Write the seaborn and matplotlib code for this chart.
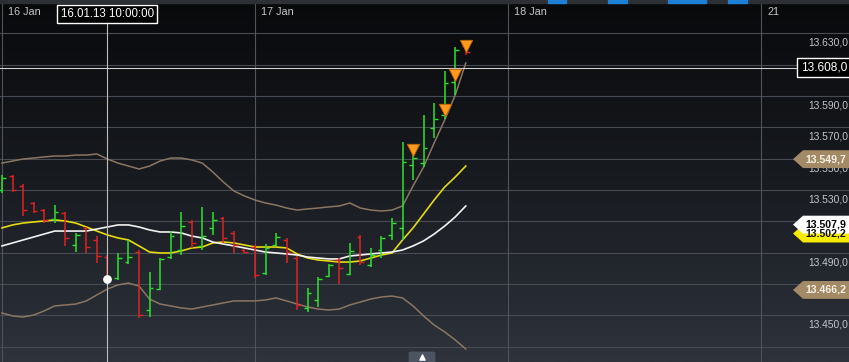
import numpy as np
import pandas as pd
import matplotlib
matplotlib.use("Agg")
import matplotlib.pyplot as plt
from matplotlib.patches import Polygon, Rectangle, FancyBboxPatch
from matplotlib.colors import LinearSegmentedColormap
import seaborn as sns

# ---------------- data (hourly bars from 16.01.13 00:00) ----------------
bar_index = list(range(45))
opens = [13530.0, 13538.9, 13532.6, 13521.7, 13517.2, 13511.5, 13515.3, 13494.9, 13505.8, 13498.1,
         13487.2, 13473.8, 13484.0, 13490.4, 13453.4, 13466.8, 13487.2, 13491.7, 13509.6, 13494.3,
         13505.8, 13512.1, 13502.6, 13491.7, 13493.6, 13477.0, 13494.9, 13498.1, 13486.6, 13454.7,
         13459.8, 13475.1, 13485.3, 13476.4, 13500.0, 13482.1, 13491.7, 13501.3, 13505.8, 13546.0,
         13547.2, 13569.6, 13577.9, 13598.9, 13621.9]
highs = [13539.6, 13539.6, 13533.8, 13522.3, 13517.9, 13520.4, 13516.0, 13502.6, 13506.4, 13500.6,
         13488.5, 13489.8, 13498.1, 13491.7, 13477.7, 13486.6, 13503.8, 13516.0, 13510.9, 13519.2,
         13516.0, 13512.8, 13503.8, 13492.3, 13494.9, 13495.5, 13502.6, 13499.4, 13487.9, 13467.5,
         13474.5, 13482.8, 13486.6, 13496.2, 13501.3, 13493.0, 13500.6, 13512.1, 13560.6, 13552.3,
         13577.9, 13585.5, 13606.0, 13621.3, 13623.2]
lows = [13528.1, 13528.7, 13513.4, 13515.3, 13508.9, 13508.9, 13494.3, 13490.4, 13489.8, 13483.4,
        13472.6, 13472.6, 13482.8, 13448.3, 13448.9, 13466.2, 13486.0, 13488.5, 13493.0, 13491.7,
        13501.3, 13496.2, 13489.8, 13489.8, 13473.8, 13475.8, 13494.3, 13483.4, 13453.4, 13452.1,
        13455.3, 13474.5, 13470.0, 13475.8, 13482.1, 13480.9, 13486.6, 13498.1, 13498.1, 13536.4,
        13544.7, 13563.2, 13575.3, 13590.6, 13616.2]
closes = [13537.7, 13530.0, 13517.2, 13516.6, 13510.9, 13516.0, 13499.4, 13501.3, 13493.6, 13487.9,
          13473.2, 13486.6, 13487.2, 13450.2, 13467.5, 13486.0, 13500.6, 13507.0, 13496.2, 13500.6,
          13510.9, 13499.4, 13494.9, 13490.4, 13475.8, 13493.0, 13500.0, 13490.4, 13456.6, 13464.3,
          13473.2, 13482.1, 13480.2, 13491.1, 13484.0, 13488.5, 13499.4, 13508.9, 13547.9, 13550.4,
          13556.8, 13575.3, 13598.3, 13619.4, 13618.1]

upper_band = [13547.2, 13548.5, 13549.8, 13550.4, 13551.1, 13551.7, 13551.7, 13552.3, 13552.3, 13553.0,
              13549.8, 13547.2, 13545.3, 13543.4, 13545.3, 13548.5, 13550.4, 13550.4, 13549.2, 13547.2,
              13541.5, 13535.1, 13529.4, 13526.2, 13523.6, 13521.7, 13520.4, 13518.5, 13517.2, 13517.9,
              13518.5, 13519.2, 13519.8, 13521.7, 13518.5, 13517.2, 13516.6, 13517.2, 13519.8, 13532.6,
              13544.7, 13560.0, 13574.7, 13590.6, 13611.1]
lower_band = [13451.5, 13449.6, 13448.9, 13450.2, 13452.8, 13456.0, 13456.6, 13457.2, 13459.2, 13463.0,
              13466.8, 13469.4, 13470.6, 13468.7, 13460.4, 13457.2, 13456.0, 13454.7, 13454.0, 13455.3,
              13456.6, 13457.9, 13459.2, 13459.2, 13459.2, 13459.8, 13461.1, 13459.2, 13457.2, 13455.3,
              13454.0, 13453.4, 13454.0, 13456.6, 13458.5, 13460.4, 13461.7, 13462.3, 13461.1, 13456.0,
              13449.6, 13443.8, 13439.4, 13434.3, 13428.5]
ma_fast = [13505.8, 13507.7, 13508.9, 13509.6, 13510.2, 13510.9, 13510.2, 13508.9, 13506.4, 13503.8,
           13501.3, 13499.4, 13498.1, 13494.3, 13490.4, 13489.8, 13489.8, 13491.1, 13493.0, 13493.6,
           13496.2, 13496.8, 13496.2, 13494.9, 13493.6, 13493.6, 13493.6, 13493.0, 13489.2, 13486.6,
           13485.3, 13484.7, 13484.0, 13484.0, 13484.7, 13486.6, 13488.5, 13489.8, 13498.1, 13505.8,
           13514.7, 13523.6, 13531.9, 13538.3, 13545.3]
ma_slow = [13494.3, 13496.2, 13498.1, 13500.0, 13501.9, 13503.8, 13503.8, 13503.8, 13503.8, 13505.1,
           13506.4, 13507.7, 13507.7, 13506.4, 13504.5, 13503.2, 13503.2, 13502.6, 13500.6, 13499.4,
           13496.8, 13495.5, 13494.3, 13493.0, 13491.7, 13490.4, 13489.8, 13489.2, 13488.5, 13487.2,
           13486.6, 13486.0, 13486.0, 13487.9, 13488.5, 13489.2, 13489.8, 13490.4, 13491.7, 13494.3,
           13497.5, 13501.9, 13507.0, 13512.8, 13519.8]

signal_bars = [39, 42, 43, 44]
signal_values = [13555.5, 13581.1, 13603.4, 13621.9]

grid_levels = [13430, 13450, 13470, 13490, 13510, 13530, 13550, 13570, 13590, 13610, 13630]
label_levels = [13450, 13490, 13530, 13550, 13570, 13590, 13630]
day_bars = [0, 24, 48, 72]
day_labels = ["16 Jan", "17 Jan", "18 Jan", "21"]

cursor_bar = 10
cursor_close = 13473.2
cursor_label = "16.01.13 10:00:00"
cursor_value = 13608.0
cursor_value_text = "13.608,0"

tag_values = [13502.2, 13507.9, 13549.7, 13466.2]
tag_texts = ["13.502,2", "13.507,9", "13.549,7", "13.466,2"]
tag_colors = ["#f5ec00", "#ffffff", "#a28a66", "#a28a66"]
tag_text_colors = ["#111111", "#000000", "#f7f0e4", "#f7f0e4"]

# ---------------- figure ----------------
plt.rcParams['font.family'] = ['Liberation Sans', 'DejaVu Sans']
fig = plt.figure(figsize=(8.49, 3.62), dpi=100)
ax = fig.add_axes([0, 0, 1, 1])
ax.set_axis_off()

W, H = 849.0, 362.0
def fx(px):
    return px / W
def fy(py):
    return 1 - py / H

# gradient background
cmap = LinearSegmentedColormap.from_list("bg", ["#08090b", "#181b20", "#2e333c"])
grad = np.linspace(0, 1, 256).reshape(-1, 1)
ax.imshow(grad, extent=[0, 1, 0, 1], transform=ax.transAxes, aspect='auto',
          cmap=cmap, origin='upper', zorder=0)

# grid
for g in grid_levels:
    ax.axhline(g, color="#464b54", lw=0.8, zorder=1)
for d in day_bars:
    ax.axvline(d, color="#4e535c", lw=0.8, zorder=1)

# indicator lines via seaborn
df = pd.DataFrame({"bar": bar_index, "upper": upper_band, "lower": lower_band,
                   "fast": ma_fast, "slow": ma_slow})
sns.lineplot(data=df, x="bar", y="upper", color="#8a7662", lw=1.1, ax=ax, zorder=2)
sns.lineplot(data=df, x="bar", y="lower", color="#8a7662", lw=1.1, ax=ax, zorder=2)
sns.lineplot(data=df, x="bar", y="fast", color="#e6da10", lw=1.2, ax=ax, zorder=2)
sns.lineplot(data=df, x="bar", y="slow", color="#f2f2f2", lw=1.2, ax=ax, zorder=2)

# OHLC bars
o = np.array(opens); c = np.array(closes); hi = np.array(highs); lo = np.array(lows)
xb = np.array(bar_index)
cols = np.where(c >= o, "#2ee22e", "#e02222")
ax.vlines(xb, lo, hi, colors=cols, lw=1.1, zorder=3)
ax.hlines(o, xb - 0.36, xb, colors=cols, lw=1.0, zorder=3)
ax.hlines(c, xb, xb + 0.36, colors=cols, lw=1.0, zorder=3)

# signals
sns.scatterplot(x=signal_bars, y=signal_values, marker="v", s=80, color="#ff9a1c",
                edgecolor="#b86400", linewidth=0.6, ax=ax, zorder=5, legend=False)

# crosshair
ax.axvline(cursor_bar, ymin=0, ymax=fy(24), color="#bdbdbd", lw=0.8, zorder=4)
ax.axhline(cursor_value, xmin=0, xmax=fx(801), color="#cfcfcf", lw=0.8, zorder=4)
ax.scatter([cursor_bar], [cursor_close], s=28, color="white", zorder=6)

# top border & navigator marks
ax.add_patch(Rectangle((0, fy(3)), 1, 3 / H, transform=ax.transAxes,
                       color="#2c2f34", zorder=6))
for a, b in [(548, 566), (608, 627), (668, 706), (728, 747)]:
    ax.add_patch(Rectangle((fx(a), fy(3)), (b - a) / W, 3 / H, transform=ax.transAxes,
                           color="#1d7fd6", zorder=7))

# day labels
xt = ax.get_xaxis_transform()
for d, lab in zip(day_bars, day_labels):
    ax.annotate(lab, xy=(d, fy(12)), xycoords=xt, xytext=(4.6, 0), textcoords="offset points",
                ha="left", va="center", fontsize=7.8, color="#c4c4c4", zorder=8)

# cursor date label
ax.text(cursor_bar, fy(14), cursor_label, transform=xt, ha="center", va="center",
        fontsize=8.3, color="white", zorder=9,
        bbox=dict(boxstyle="square,pad=0.3", fc="black", ec="white", lw=1.0))

# right price labels
yt = ax.get_yaxis_transform()
for lv in label_levels:
    s = f"{lv:,.1f}".replace(",", "X").replace(".", ",").replace("X", ".")
    ax.annotate(s, xy=(fx(808), lv), xycoords=yt, xytext=(0, -3.2), textcoords="offset points",
                ha="left", va="top", fontsize=7.4, color="#c2c6cc", zorder=8)

# tags
h = 5.7
for v, t, fc, tc in zip(tag_values, tag_texts, tag_colors, tag_text_colors):
    poly = Polygon([(fx(793), v), (fx(803), v + h), (1.0, v + h), (1.0, v - h), (fx(803), v - h)],
                   closed=True, transform=yt, fc=fc, ec="none", zorder=10)
    ax.add_patch(poly)
    ax.text(fx(805), v, t, transform=yt, ha="left", va="center", fontsize=7.6, fontweight="bold",
            color=tc, zorder=11)

# cursor value box
ax.text(fx(824), cursor_value, cursor_value_text, transform=yt, ha="center", va="center",
        fontsize=8.6, color="white", zorder=11,
        bbox=dict(boxstyle="square,pad=0.3", fc="black", ec="white", lw=1.0))

# bottom tab
ax.add_patch(FancyBboxPatch((fx(412), fy(362)), 20 / W, 9 / H, boxstyle="round,pad=0.004",
                            transform=ax.transAxes, fc="#4c5461", ec="none", zorder=8))
ax.scatter([fx(422)], [fy(357)], marker="^", s=14, color="white", transform=ax.transAxes, zorder=9)

ax.set_xlim(-0.19, 80.36)
ax.set_ylim(13420.2, 13651.3)

fig.savefig("out.png", dpi=100, facecolor="black")
